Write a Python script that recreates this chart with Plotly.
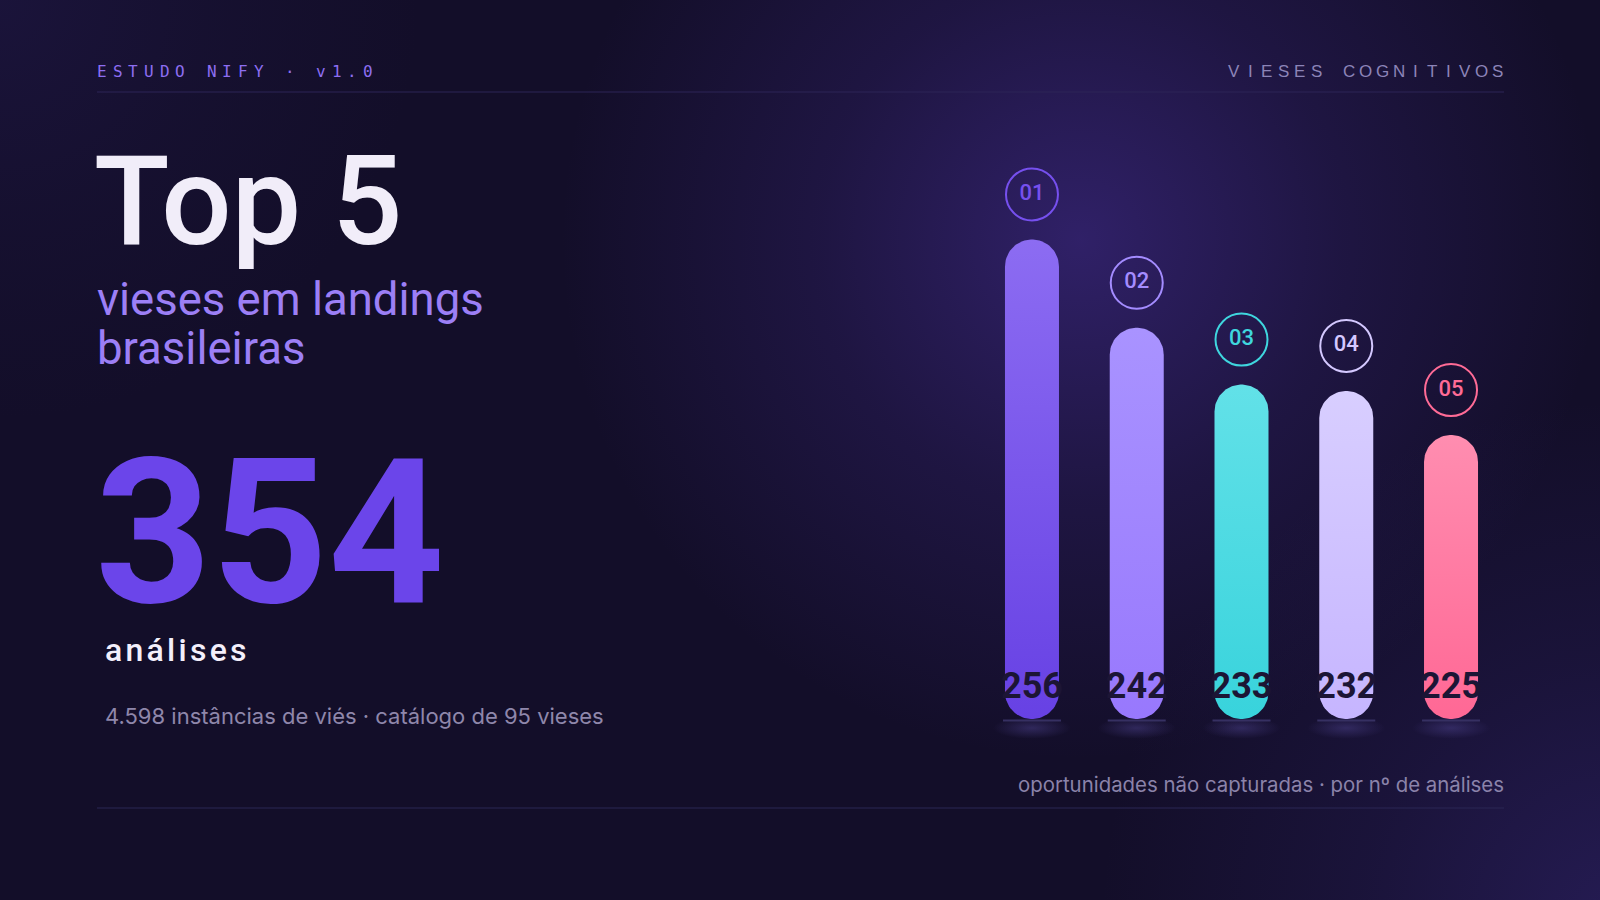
import numpy as np
import plotly.graph_objects as go

# ---------------- data ----------------
ranks = ["01", "02", "03", "04", "05"]
values = [256, 242, 233, 232, 225]
top_colors = ["#8c6cf2", "#a993ff", "#62e1e8", "#d8ceff", "#ff8db0"]
bottom_colors = ["#6741e4", "#9878fd", "#38d3dc", "#c6b5ff", "#ff6895"]
ring_colors = ["#7650ee", "#a48cff", "#3fd6de", "#d4c8ff", "#ff6b96"]

header_left = "ESTUDO NIFY · v1.0"
header_right = "VIESES COGNITIVOS"
title_big = "Top 5"
subtitle_1 = "vieses em landings"
subtitle_2 = "brasileiras"
kpi_value = "354"
kpi_label = "análises"
kpi_note = "4.598 instâncias de viés · catálogo de 95 vieses"
chart_note = "oportunidades não capturadas · por nº de análises"

# ---------------- layout geometry ----------------
W, H = 1600, 900
BG = "#130e29"

X_RANGE = [-0.5, 4.5]
X_PX = [979.6, 1503.4]
PX_PER_X = (X_PX[1] - X_PX[0]) / (X_RANGE[1] - X_RANGE[0])
Y0 = 180.0            # baseline value of the bars
BASE_PX = 719.0       # pixel row of baseline
K = 6.31              # px per unit
Y_RANGE = [170.0, 290.0]
y_dom_bottom = 1 - (BASE_PX + (Y0 - Y_RANGE[0]) * K) / H
y_dom_top = 1 - (BASE_PX - (Y_RANGE[1] - Y0) * K) / H

BAR_W_PX = 54
R_PX = BAR_W_PX / 2
hw = R_PX / PX_PER_X
ry = R_PX / K

fig = go.Figure()

# ---------------- background glows (pixel axes) ----------------
def circle_poly(cx, cy, r, n=120):
    t = np.linspace(0, 2 * np.pi, n)
    return cx + r * np.cos(t), cy + r * np.sin(t)

for (cx, cy, r, col, a0) in [
    (1080, 240, 520, "rgba(88,58,190,{a})", 0.42),
    (1620, 920, 520, "rgba(70,52,160,{a})", 0.35),
    (0, 0, 420, "rgba(40,30,90,{a})", 0.35),
]:
    gx, gy = circle_poly(cx, cy, r)
    fig.add_trace(go.Scatter(
        x=gx, y=gy, mode="lines", line=dict(width=0), fill="toself",
        fillgradient=dict(type="radial",
                          colorscale=[[0, col.format(a=a0)], [0.5, col.format(a=a0 * 0.4)], [1, col.format(a=0)]]),
        hoverinfo="skip", xaxis="x", yaxis="y"))

# ---------------- bar chart (data axes) ----------------
xs = list(range(len(values)))

for i in xs:
    ex_w = 39 / PX_PER_X
    ey_h = 11 / K
    t = np.linspace(0, 2 * np.pi, 80)
    cyv = Y0 - 9 / K
    fig.add_trace(go.Scatter(
        x=i + ex_w * np.cos(t), y=cyv + ey_h * np.sin(t), mode="lines",
        line=dict(width=0), fill="toself",
        fillgradient=dict(type="radial",
                          colorscale=[[0, "rgba(70,60,130,0.55)"], [1, "rgba(70,60,130,0)"]]),
        hoverinfo="skip", xaxis="x2", yaxis="y2"))
    fig.add_trace(go.Scatter(
        x=[i - hw - 2 / PX_PER_X, i + hw + 2 / PX_PER_X], y=[Y0 - 1.5 / K] * 2,
        mode="lines", line=dict(color="#363062", width=2),
        hoverinfo="skip", xaxis="x2", yaxis="y2"))

for i, v in enumerate(values):
    th = np.linspace(0, np.pi, 40)
    bx_top = i + hw * np.cos(th)
    by_top = v - ry + ry * np.sin(th)
    tb = np.linspace(np.pi, 2 * np.pi, 40)
    bx_bot = i + hw * np.cos(tb)
    by_bot = Y0 + ry + ry * np.sin(tb)
    bx = np.concatenate([bx_top, bx_bot, bx_top[:1]])
    by = np.concatenate([by_top, by_bot, by_top[:1]])
    fig.add_trace(go.Scatter(
        x=bx, y=by, mode="lines", line=dict(width=0), fill="toself",
        fillgradient=dict(type="vertical", start=Y0, stop=v,
                          colorscale=[[0, bottom_colors[i]], [1, top_colors[i]]]),
        hoverinfo="skip", xaxis="x2", yaxis="y2"))

fig.add_trace(go.Scatter(
    x=xs, y=[Y0 + 30 / K] * len(values), mode="text",
    text=[str(v) for v in values], textposition="middle center",
    textfont=dict(family="Roboto", size=36, color="#1c1535", weight=700),
    hoverinfo="skip", xaxis="x2", yaxis="y2", cliponaxis=False))

fig.add_trace(go.Scatter(
    x=xs, y=[v + 45 / K for v in values], mode="markers+text",
    marker=dict(symbol="circle-open", size=52, color=ring_colors, line=dict(width=2, color=ring_colors)),
    text=ranks, textposition="middle center",
    textfont=dict(family="Roboto", size=22, color=ring_colors, weight=500),
    hoverinfo="skip", xaxis="x2", yaxis="y2", cliponaxis=False))

# ---------------- decorative lines ----------------
fig.add_shape(type="line", xref="paper", yref="paper", x0=97 / W, x1=1504 / W,
              y0=1 - 92 / H, y1=1 - 92 / H, line=dict(color="#2d2557", width=1))
fig.add_shape(type="line", xref="paper", yref="paper", x0=97 / W, x1=1504 / W,
              y0=1 - 808 / H, y1=1 - 808 / H, line=dict(color="#2b2655", width=1))

# ---------------- texts ----------------
def ann(text, px, py, size, color, family="Roboto", weight=400, xanchor="left"):
    fig.add_annotation(text=text, x=px / W, y=1 - py / H, xref="paper", yref="paper",
                       xanchor=xanchor, yanchor="middle", showarrow=False,
                       font=dict(family=family, size=size, color=color, weight=weight))

def tracked(s, first_center, pitch, py, size, color, family, weight=400):
    for k, ch in enumerate(s):
        if ch == " ":
            continue
        ann(ch, first_center + k * pitch, py, size, color, family=family, weight=weight, xanchor="center")

tracked(header_left, 102, 15.65, 71, 16, "#8d6ef2", "DejaVu Sans Mono", weight=400)
tracked(header_right, 1233.5, 16.5, 71, 17, "#8c84b8", "Liberation Sans", weight=400)
ann(title_big, 92, 201, 124, "#f1edf9", weight=500)
ann(subtitle_1, 95, 299, 45.5, "#9c7ff6", weight=400)
ann(subtitle_2, 95, 348, 45.5, "#9c7ff6", weight=400)
ann(kpi_value, 93, 533, 203, "#6b45ea", weight=700)
ann("\u200a".join(kpi_label), 103, 650, 32, "#f3effb", weight=500)
ann(kpi_note, 103, 716, 22, "#8f87ab", family="Inter")
ann(chart_note, 1506, 784, 20.4, "#8b83aa", family="Inter", xanchor="right")

# ---------------- layout ----------------
fig.update_layout(
    width=W, height=H, margin=dict(l=0, r=0, t=0, b=0),
    paper_bgcolor=BG, plot_bgcolor="rgba(0,0,0,0)", showlegend=False,
    xaxis=dict(range=[0, W], domain=[0, 1], visible=False, fixedrange=True),
    yaxis=dict(range=[H, 0], domain=[0, 1], visible=False, fixedrange=True),
    xaxis2=dict(range=X_RANGE, domain=[X_PX[0] / W, X_PX[1] / W], visible=False,
                anchor="y2", fixedrange=True),
    yaxis2=dict(range=Y_RANGE, domain=[y_dom_bottom, y_dom_top], visible=False,
                anchor="x2", fixedrange=True),
    hovermode=False,
)

fig.write_html("out.html", config={"displayModeBar": False},
               post_script="document.body.style.margin='0';document.body.style.background='" + BG + "';")
